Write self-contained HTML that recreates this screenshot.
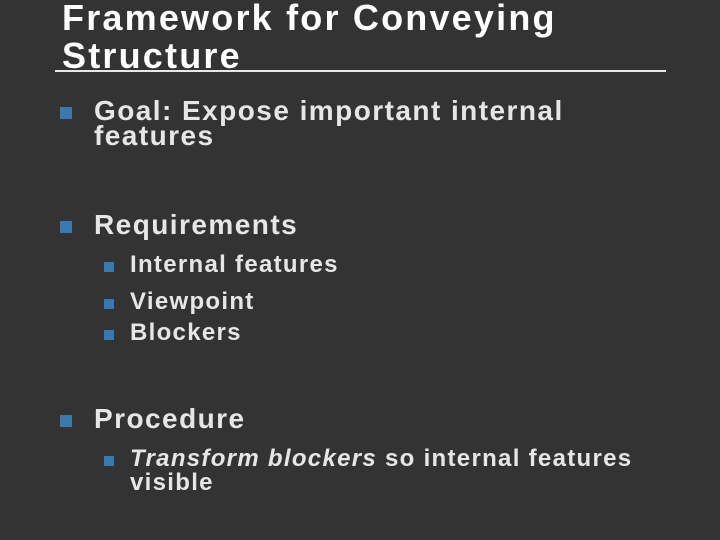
<!DOCTYPE html>
<html><head><style>
body{margin:0;width:720px;height:540px;background:#333333;overflow:hidden;position:relative;font-family:"Liberation Sans",sans-serif;font-weight:bold}
.t{position:absolute;left:62px;color:#fff;font-size:36px;letter-spacing:2.2px;line-height:1;white-space:nowrap}
.l{position:absolute;color:#e6e6e6;white-space:nowrap;line-height:1}
.b1{font-size:28px;left:94px;letter-spacing:1.45px}
.b2{font-size:24px;left:130px;letter-spacing:1.3px}
.sq{position:absolute;background:#3a78b0}
.s1{left:60px;width:12px;height:12px}
.s2{left:104px;width:10px;height:10px}
</style></head><body>
<div class="t" style="top:0px">Framework for Conveying</div>
<div class="t" style="top:38px">Structure</div>
<div style="position:absolute;left:55px;top:70px;width:611px;height:2px;background:#e8e8e8"></div>

<div class="sq s1" style="top:107px"></div>
<div class="l b1" style="top:97px">Goal: Expose important internal</div>
<div class="l b1" style="top:122px">features</div>

<div class="sq s1" style="top:221px"></div>
<div class="l b1" style="top:211px">Requirements</div>
<div class="sq s2" style="top:262px"></div>
<div class="l b2" style="top:253px">Internal features</div>
<div class="sq s2" style="top:299px"></div>
<div class="l b2" style="top:290px">Viewpoint</div>
<div class="sq s2" style="top:330px"></div>
<div class="l b2" style="top:321px">Blockers</div>

<div class="sq s1" style="top:415px"></div>
<div class="l b1" style="top:405px">Procedure</div>
<div class="sq s2" style="top:456px"></div>
<div class="l b2" style="top:447px"><i>Transform blockers</i> so internal features</div>
<div class="l b2" style="top:471px">visible</div>
</body></html>
